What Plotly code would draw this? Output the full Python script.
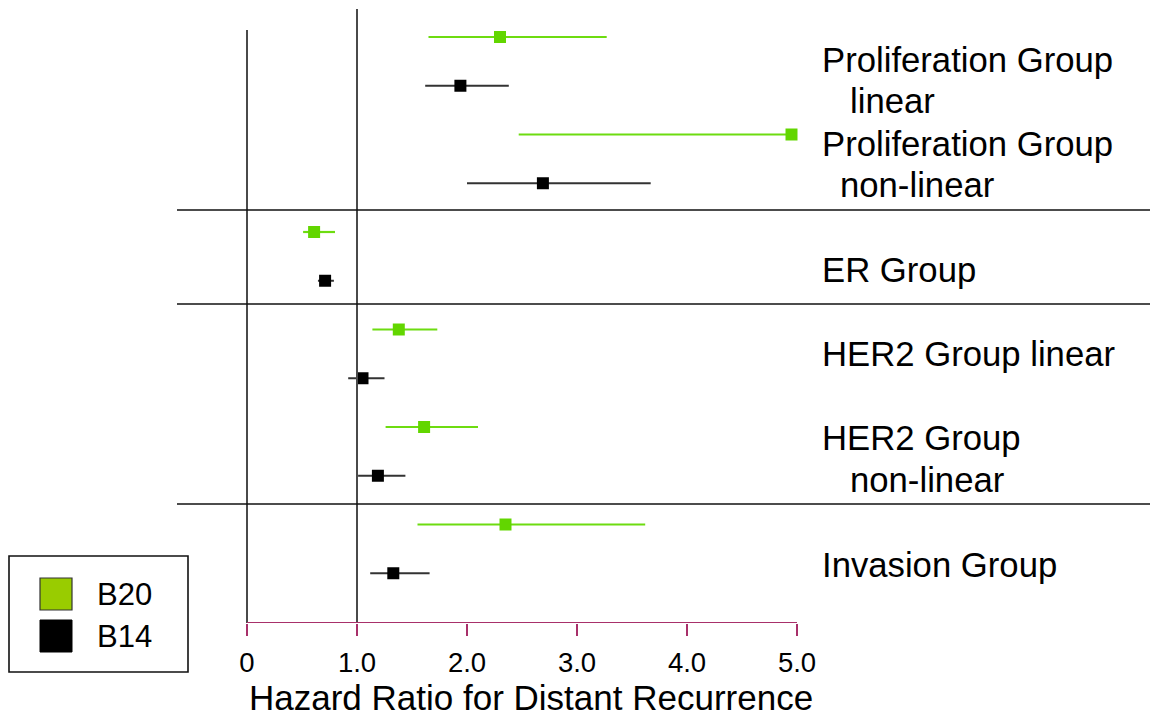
import plotly.graph_objects as go

# ---- data ----
rows_b20 = [0, 2, 4, 6, 8, 10]
rows_b14 = [1, 3, 5, 7, 9, 11]
hr_b20 = [2.30, 4.95, 0.61, 1.38, 1.61, 2.35]
lo_b20 = [1.65, 2.47, 0.51, 1.14, 1.26, 1.55]
hi_b20 = [3.27, 5.00, 0.80, 1.73, 2.10, 3.62]
hr_b14 = [1.94, 2.69, 0.71, 1.05, 1.19, 1.33]
lo_b14 = [1.62, 2.00, 0.645, 0.92, 1.01, 1.12]
hi_b14 = [2.38, 3.67, 0.79, 1.25, 1.44, 1.66]
tick_vals = [0, 1, 2, 3, 4, 5]
tick_text = ["0", "1.0", "2.0", "3.0", "4.0", "5.0"]
label_lines = ["Proliferation Group", "linear", "Proliferation Group", "non-linear",
               "ER Group", "HER2 Group linear", "HER2 Group", "non-linear", "Invasion Group"]
series_names = ["B20", "B14"]

# ---- layout helpers (pixel geometry) ----
W, H = 1150, 717
MB = 94
PH = H - MB
X0PX, PXU = 247, 110.0
ROW0, ROWPX = 37, 48.75

def xd(px):
    return (px - X0PX) / PXU

def yd(py):
    return (py - ROW0) / ROWPX

def yp(py):
    return 1 - py / PH

GREEN = "#62d600"
GREEN_LINE = "#6ddc10"
BLACK = "#000000"
MAG = "#a8306a"
GRAY = "#4a4a4a"
FONT = "Liberation Sans, Arial, sans-serif"

fig = go.Figure()
fig.add_trace(go.Scatter(
    x=hr_b20, y=rows_b20, mode="markers", name=series_names[0],
    marker=dict(symbol="square", size=12, color=GREEN, line=dict(width=0)),
    error_x=dict(type="data", symmetric=False,
                 array=[h - v for h, v in zip(hi_b20, hr_b20)],
                 arrayminus=[v - l for v, l in zip(hr_b20, lo_b20)],
                 color=GREEN_LINE, thickness=2.2, width=0),
    showlegend=False))
fig.add_trace(go.Scatter(
    x=hr_b14, y=rows_b14, mode="markers", name=series_names[1],
    marker=dict(symbol="square", size=12, color=BLACK, line=dict(width=0)),
    error_x=dict(type="data", symmetric=False,
                 array=[h - v for h, v in zip(hi_b14, hr_b14)],
                 arrayminus=[v - l for v, l in zip(hr_b14, lo_b14)],
                 color="#333333", thickness=2, width=0),
    showlegend=False))

shapes = []
# y axis line and reference line at 1.0
shapes.append(dict(type="line", xref="x", yref="y", x0=0, x1=0, y0=yd(30), y1=yd(623),
                   line=dict(color=GRAY, width=2)))
shapes.append(dict(type="line", xref="x", yref="y", x0=1, x1=1, y0=yd(9), y1=yd(623),
                   line=dict(color=GRAY, width=2)))
# group separators
for py in [210, 304, 504]:
    shapes.append(dict(type="line", xref="x", yref="y", x0=xd(177), x1=xd(1152),
                       y0=yd(py), y1=yd(py), line=dict(color="#111111", width=1.6)))
# x axis line
shapes.append(dict(type="line", xref="x", yref="y", x0=0, x1=5, y0=yd(623), y1=yd(623),
                   line=dict(color=MAG, width=2)))
# legend box
shapes.append(dict(type="rect", xref="paper", yref="paper", x0=9 / W, x1=188 / W,
                   y0=yp(672), y1=yp(556), line=dict(color="#111111", width=1.6),
                   fillcolor="white"))
shapes.append(dict(type="rect", xref="paper", yref="paper", x0=40 / W, x1=72 / W,
                   y0=yp(610), y1=yp(578), line=dict(color="#333333", width=1.2),
                   fillcolor="#99cc00"))
shapes.append(dict(type="rect", xref="paper", yref="paper", x0=40 / W, x1=72 / W,
                   y0=yp(652), y1=yp(620), line=dict(color="#000000", width=1),
                   fillcolor="#000000"))

annotations = []
label_pos = [(820, 60), (848, 101), (820, 144), (838, 185), (820, 270),
             (820, 354), (820, 438), (848, 480), (820, 565)]
for txt, (px, py) in zip(label_lines, label_pos):
    annotations.append(dict(x=xd(px), y=yd(py), xref="x", yref="y", text=txt,
                            showarrow=False, xanchor="left", yanchor="middle",
                            font=dict(size=34.7, color="#000000", family=FONT)))
annotations.append(dict(x=xd(247), y=yp(697), xref="x", yref="paper",
                        text="Hazard Ratio for Distant Recurrence", showarrow=False,
                        xanchor="left", yanchor="middle",
                        font=dict(size=35, color="#000000", family=FONT)))
for name, py in zip(series_names, [594, 636]):
    annotations.append(dict(x=95 / W, y=yp(py), xref="paper", yref="paper", text=name,
                            showarrow=False, xanchor="left", yanchor="middle",
                            font=dict(size=31, color="#000000", family=FONT)))

fig.update_layout(
    width=W, height=H,
    margin=dict(l=0, r=0, t=0, b=MB),
    paper_bgcolor="white", plot_bgcolor="white",
    xaxis=dict(range=[xd(0), xd(W)], showgrid=False, zeroline=False, showline=False,
               tickvals=tick_vals, ticktext=tick_text, ticks="outside", ticklen=12,
               tickwidth=2, tickcolor=MAG, ticklabelstandoff=3,
               tickfont=dict(size=27.5, color="#000000", family=FONT)),
    yaxis=dict(range=[yd(PH), yd(0)], showgrid=False, zeroline=False, showline=False,
               showticklabels=False, ticks=""),
    shapes=shapes, annotations=annotations,
)

fig.write_html("out.html")
